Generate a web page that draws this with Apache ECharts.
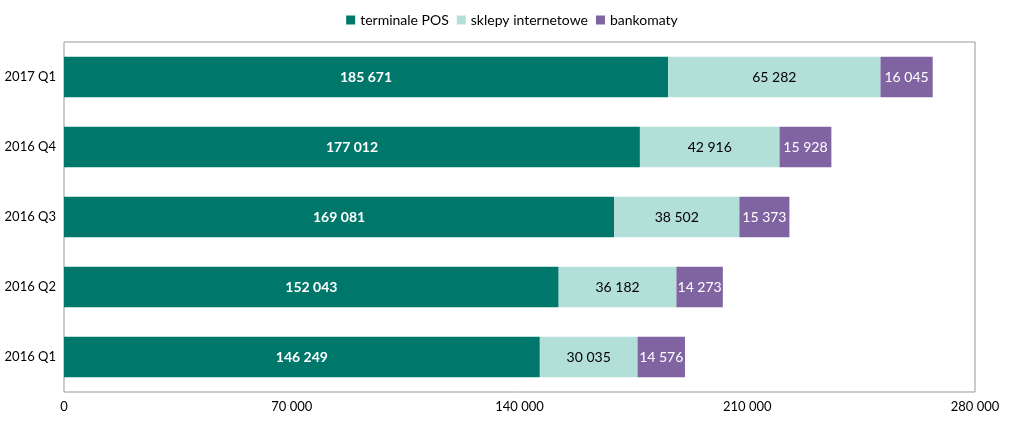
<!DOCTYPE html>
<html>
<head>
<meta charset="utf-8">
<script src="https://cdn.jsdelivr.net/npm/echarts@6/dist/echarts.min.js"></script>
<style>html,body{margin:0;padding:0;background:#fff}#main{width:1024px;height:424px}</style>
</head>
<body>
<div id="main"></div>
<script>
var quarters = ['2016 Q1', '2016 Q2', '2016 Q3', '2016 Q4', '2017 Q1'];
var pos = [146249, 152043, 169081, 177012, 185671];
var shops = [30035, 36182, 38502, 42916, 65282];
var atms = [14576, 14273, 15373, 15928, 16045];
var ticks = [0, 70000, 140000, 210000, 280000];

function fmt(v) {
    return String(v).replace(/\B(?=(\d{3})+(?!\d))/g, ' ');
}

var chart = echarts.init(document.getElementById('main'));
chart.setOption({
    textStyle: { fontFamily: 'Lato' },
    animation: false,
    legend: {
        top: 8,
        left: 'center',
        itemWidth: 9,
        itemHeight: 9,
        icon: 'rect',
        textStyle: { fontSize: 14, color: '#000' },
        data: ['terminale POS', 'sklepy internetowe', 'bankomaty']
    },
    grid: { left: 64, right: 49, top: 42, bottom: 32, show: true, borderColor: '#999', borderWidth: 1 },
    xAxis: {
        type: 'value', min: 0, max: 280000, interval: 70000,
        axisLabel: { formatter: fmt, fontSize: 13, color: '#000' },
        splitLine: { show: false },
        axisLine: { show: false }, axisTick: { show: false }
    },
    yAxis: {
        type: 'category', data: quarters,
        axisLabel: { fontSize: 13, color: '#000' },
        axisLine: { show: false }, axisTick: { show: false }
    },
    series: [
        { name: 'terminale POS', type: 'bar', stack: 'a', data: pos, barWidth: '58%',
          itemStyle: { color: '#00776B' },
          label: { show: true, color: '#fff', fontWeight: 'bold', fontSize: 14, formatter: function (p) { return fmt(p.value); } } },
        { name: 'sklepy internetowe', type: 'bar', stack: 'a', data: shops,
          itemStyle: { color: '#B3DFD9' },
          label: { show: true, color: '#000', fontSize: 14, formatter: function (p) { return fmt(p.value); } } },
        { name: 'bankomaty', type: 'bar', stack: 'a', data: atms,
          itemStyle: { color: '#8064A2' },
          label: { show: true, color: '#fff', fontSize: 14, formatter: function (p) { return fmt(p.value); } } }
    ]
});
</script>
</body>
</html>
